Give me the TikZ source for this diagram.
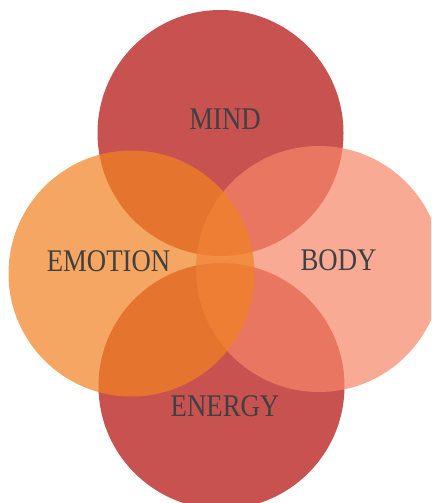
\documentclass[tikz,border=0pt]{standalone}
\usepackage{fontspec}
\setmainfont{Liberation Serif}
\definecolor{redc}{RGB}{200,82,80}
\definecolor{bodyc}{RGB}{247,134,103}
\definecolor{emoc}{RGB}{241,130,34}
\definecolor{txt}{RGB}{62,64,65}
\newcommand{\lbl}[1]{\scalebox{0.85}[1]{#1}}
\begin{document}
\begin{tikzpicture}[x=1pt,y=-1pt,
  circ/.style={circle,draw=none,minimum size=246pt,inner sep=0pt},
  word/.style={text=txt,font=\fontsize{31.5}{31.5}\selectfont,anchor=base,inner sep=0pt}]
\useasboundingbox (0,0) rectangle (431,503);
\clip (0,0) rectangle (431,503);
\fill[white] (0,0) rectangle (431,503);
\node[circ,fill=redc] (mind) at (220.5,133) {};
\node[circ,fill=redc] (energy) at (221.5,386) {};
\node[circ,fill=bodyc,fill opacity=0.7] (body) at (319,269) {};
\node[circ,fill=emoc,fill opacity=0.71] (emotion) at (131.5,273.5) {};
\node[word] (tmind) at (225,129) {\lbl{MIND}};
\node[word] (temotion) at (108.5,271) {\lbl{EMOTION}};
\node[word] (tbody) at (338.5,270) {\lbl{BODY}};
\node[word] (tenergy) at (225,416) {\lbl{ENERGY}};
\end{tikzpicture}
\end{document}
